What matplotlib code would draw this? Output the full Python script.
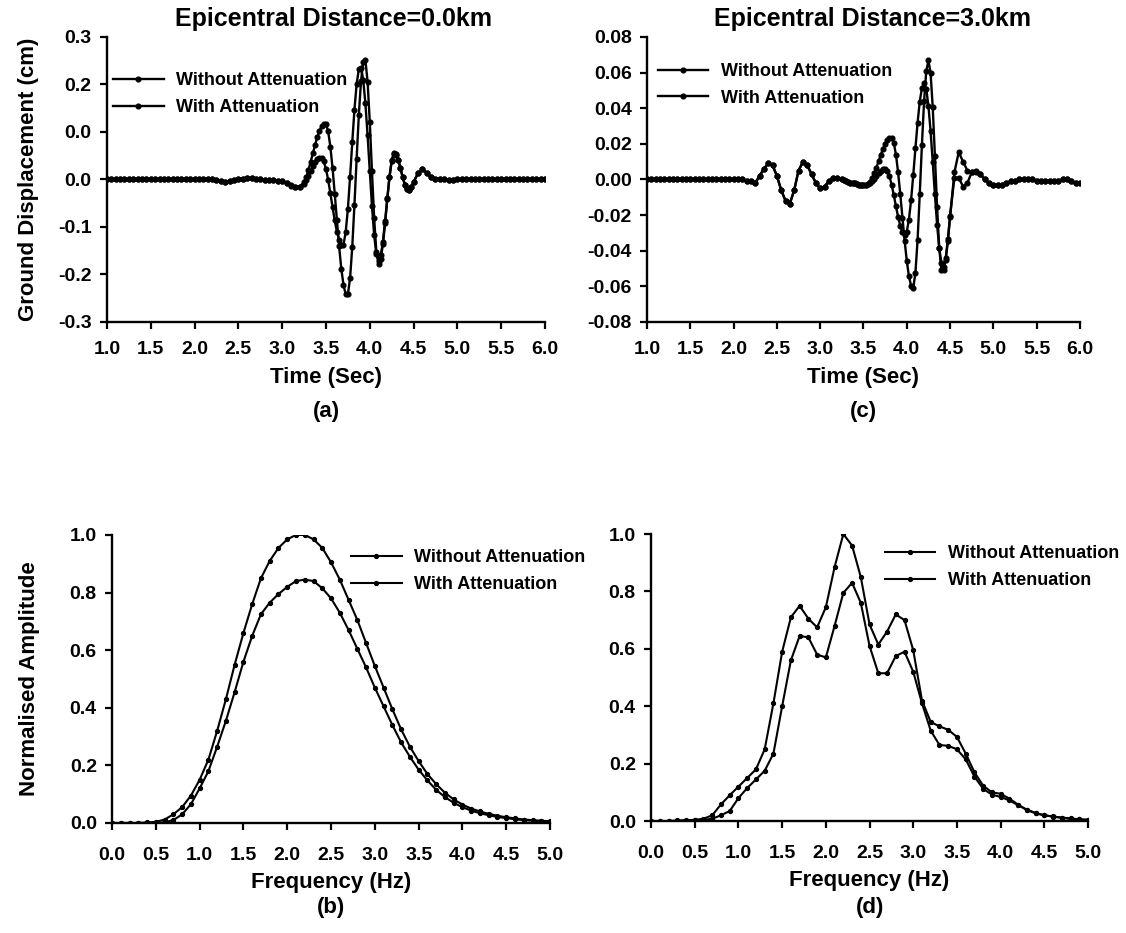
import numpy as np
import matplotlib
matplotlib.use('Agg')
import matplotlib.pyplot as plt

plt.rcParams['font.family'] = ['Liberation Sans', 'DejaVu Sans']
plt.rcParams['font.weight'] = 'bold'
plt.rcParams['axes.labelweight'] = 'bold'

# time axis of the displacement records (s): coarse, fine around the main pulse, coarse
time = np.round(np.concatenate([np.arange(1.0, 3.2501, 0.05),
                                np.arange(3.275, 4.5001, 0.025),
                                np.arange(4.55, 6.0001, 0.05)]), 3)
# frequency axis of the spectra (Hz)
freq = np.round(np.arange(0.0, 5.0001, 0.1), 1)

# (a) epicentral distance 0.0 km, ground displacement (cm)
disp0_without = [
    # 1.00 - 3.25 s
    0.000, 0.000, 0.000, 0.000, 0.000, 0.000, 0.000, 0.000, 0.000, 0.000,
    0.000, 0.000, 0.000, 0.000, 0.000, 0.000, 0.000, 0.000, 0.000, 0.000,
    0.000, 0.001, 0.002, 0.001, 0.000, -0.002, -0.004, -0.005, -0.004, -0.002,
    0.000, 0.002, 0.003, 0.003, 0.002, 0.000, -0.001, -0.002, -0.002, -0.003,
    -0.004, -0.008, -0.013, -0.016, -0.015, -0.006,
    # 3.275 - 4.500 s
    0.005, 0.020, 0.037, 0.055, 0.072, 0.089, 0.102, 0.112, 0.117, 0.117,
    0.101, 0.069, 0.024, -0.030, -0.086, -0.141, -0.188, -0.222, -0.242, -0.242,
    -0.208, -0.142, -0.053, 0.044, 0.136, 0.207, 0.248, 0.251, 0.206, 0.121,
    0.017, -0.082, -0.152, -0.178, -0.167, -0.136, -0.091, -0.041, 0.006, 0.040,
    0.056, 0.053, 0.042, 0.024, 0.005, -0.011, -0.021, -0.022, -0.016, -0.0055,
    # 4.55 - 6.00 s
    0.013, 0.021, 0.014, 0.005, 0.001, 0.000, 0.000, -0.001, -0.001,
    0.000, 0.000, 0.000, 0.000, 0.000, 0.000, 0.001, 0.001, 0.000, 0.000,
    0.000, 0.000, 0.000, 0.000, 0.000, 0.000, 0.000, 0.001, 0.001, 0.000,
    0.000]
disp0_with = [
    0.000, 0.000, 0.000, 0.000, 0.000, 0.000, 0.000, 0.000, 0.000, 0.000,
    0.000, 0.000, 0.000, 0.000, 0.000, 0.000, 0.000, 0.000, 0.000, 0.000,
    0.000, 0.001, 0.002, 0.001, 0.000, -0.002, -0.004, -0.005, -0.004, -0.002,
    0.000, 0.002, 0.003, 0.003, 0.002, 0.000, -0.001, -0.002, -0.002, -0.003,
    -0.004, -0.008, -0.012, -0.016, -0.016, -0.010,
    -0.002, 0.007, 0.018, 0.028, 0.036, 0.043, 0.046, 0.046, 0.038, 0.022,
    -0.001, -0.029, -0.058, -0.086, -0.110, -0.127, -0.137, -0.137, -0.111, -0.062,
    0.005, 0.078, 0.147, 0.201, 0.232, 0.235, 0.210, 0.160, 0.093, 0.018,
    -0.056, -0.117, -0.157, -0.171, -0.160, -0.131, -0.088, -0.040, 0.005, 0.038,
    0.053, 0.051, 0.041, 0.024, 0.005, -0.011, -0.021, -0.022, -0.016, -0.0055,
    0.013, 0.021, 0.014, 0.005, 0.001, 0.000, 0.000, -0.001, -0.001,
    0.000, 0.000, 0.000, 0.000, 0.000, 0.000, 0.001, 0.001, 0.000, 0.000,
    0.000, 0.000, 0.000, 0.000, 0.000, 0.000, 0.000, 0.001, 0.001, 0.000,
    0.000]

# (c) epicentral distance 3.0 km
disp3_without = [
    0.000, 0.000, 0.000, 0.000, 0.000, 0.000, 0.000, 0.000, 0.000, 0.000,
    0.000, 0.000, 0.000, 0.000, 0.000, 0.000, 0.000, 0.000, 0.000, 0.000,
    0.000, 0.000, 0.000, -0.001, -0.001, -0.002, 0.002, 0.006, 0.009, 0.008,
    0.002, -0.006, -0.012, -0.0135, -0.006, 0.005, 0.0097, 0.008, 0.003, -0.002,
    -0.005, -0.004, -0.001, 0.001, 0.001, 0.000,
    -0.0005, -0.001, -0.0015, -0.002, -0.002, -0.002, -0.0025, -0.003, -0.003, -0.003,
    -0.003, -0.0027, -0.0015, 0.0006, 0.0034, 0.0067, 0.0103, 0.0139, 0.0172, 0.0200,
    0.0221, 0.0233, 0.0235, 0.0206, 0.0139, 0.0040, -0.0082, -0.0214, -0.0343, -0.0456,
    -0.0544, -0.0597, -0.0608, -0.0524, -0.0338, -0.0082, 0.0195, 0.0440, 0.0608, 0.0668,
    0.0598, 0.0404, 0.0132, -0.0153, -0.0385, -0.0509, -0.0511, -0.0450, -0.0344, -0.0212,
    0.004, 0.0153, 0.010, 0.005, 0.004, 0.004, 0.003, 0.000, -0.002,
    -0.003, -0.003, -0.003, -0.002, -0.001, -0.001, 0.000, 0.000, 0.000, 0.000,
    -0.001, -0.001, -0.001, -0.001, -0.001, -0.001, 0.000, 0.000, -0.001, -0.002,
    -0.002]
disp3_with = [
    0.000, 0.000, 0.000, 0.000, 0.000, 0.000, 0.000, 0.000, 0.000, 0.000,
    0.000, 0.000, 0.000, 0.000, 0.000, 0.000, 0.000, 0.000, 0.000, 0.000,
    0.000, 0.000, 0.000, -0.001, -0.001, -0.002, 0.002, 0.006, 0.009, 0.008,
    0.002, -0.006, -0.012, -0.0135, -0.006, 0.005, 0.0097, 0.008, 0.003, -0.002,
    -0.005, -0.004, -0.001, 0.001, 0.001, 0.000,
    -0.0005, -0.001, -0.0015, -0.002, -0.002, -0.002, -0.0025, -0.003, -0.003, -0.003,
    -0.003, -0.0028, -0.0021, -0.0009, 0.0005, 0.0021, 0.0037, 0.0049, 0.0057, 0.0060,
    0.0049, 0.0019, -0.0029, -0.0087, -0.0150, -0.0210, -0.0260, -0.0295, -0.0310, -0.0293,
    -0.0225, -0.0115, 0.0025, 0.0175, 0.0319, 0.0437, 0.0513, 0.0540, 0.0508, 0.0414,
    0.0272, 0.0098, -0.0084, -0.0253, -0.0387, -0.0469, -0.0489, -0.0440, -0.0336, -0.0203,
    0.001, 0.001, -0.004, -0.002, 0.004, 0.005, 0.003, 0.000, -0.002,
    -0.003, -0.003, -0.003, -0.002, -0.001, -0.001, 0.000, 0.000, 0.000, 0.000,
    -0.001, -0.001, -0.001, -0.001, -0.001, -0.001, 0.000, 0.000, -0.001, -0.002,
    -0.002]

# (b) normalised amplitude spectra, 0.0 km
amp0_without = [
    0.000, 0.000, 0.000, 0.000, 0.002, 0.004, 0.012, 0.030, 0.055, 0.095,
    0.150, 0.220, 0.320, 0.430, 0.550, 0.660, 0.760, 0.850, 0.910, 0.955,
    0.985, 1.000, 1.000, 0.985, 0.955, 0.905, 0.845, 0.775, 0.705, 0.625,
    0.545, 0.470, 0.395, 0.325, 0.265, 0.215, 0.170, 0.135, 0.105, 0.082,
    0.064, 0.050, 0.040, 0.032, 0.025, 0.020, 0.016, 0.012, 0.010, 0.008,
    0.006]
amp0_with = [
    0.000, 0.000, 0.000, 0.000, 0.000, 0.000, 0.003, 0.010, 0.030, 0.065,
    0.120, 0.180, 0.265, 0.355, 0.455, 0.560, 0.650, 0.725, 0.765, 0.795,
    0.820, 0.840, 0.845, 0.840, 0.815, 0.780, 0.730, 0.670, 0.605, 0.540,
    0.470, 0.405, 0.340, 0.280, 0.230, 0.185, 0.148, 0.115, 0.090, 0.070,
    0.055, 0.043, 0.034, 0.027, 0.021, 0.017, 0.013, 0.010, 0.008, 0.006,
    0.005]

# (d) normalised amplitude spectra, 3.0 km
amp3_without = [
    0.000, 0.000, 0.000, 0.002, 0.003, 0.004, 0.008, 0.020, 0.058, 0.090,
    0.120, 0.150, 0.180, 0.250, 0.410, 0.590, 0.710, 0.750, 0.705, 0.675,
    0.745, 0.885, 1.000, 0.960, 0.850, 0.685, 0.615, 0.660, 0.720, 0.700,
    0.595, 0.420, 0.345, 0.330, 0.318, 0.293, 0.235, 0.170, 0.123, 0.100,
    0.095, 0.078, 0.057, 0.038, 0.027, 0.020, 0.016, 0.012, 0.009, 0.006,
    0.004]
amp3_with = [
    0.000, 0.000, 0.000, 0.000, 0.001, 0.002, 0.004, 0.008, 0.020, 0.035,
    0.080, 0.115, 0.145, 0.175, 0.235, 0.400, 0.560, 0.645, 0.640, 0.580,
    0.570, 0.680, 0.795, 0.830, 0.760, 0.610, 0.515, 0.515, 0.575, 0.590,
    0.520, 0.410, 0.315, 0.265, 0.262, 0.250, 0.215, 0.155, 0.112, 0.092,
    0.084, 0.072, 0.055, 0.040, 0.028, 0.020, 0.015, 0.011, 0.008, 0.006,
    0.004]

labels = ['Without Attenuation', 'With Attenuation']
time_ticks = [1.0, 1.5, 2.0, 2.5, 3.0, 3.5, 4.0, 4.5, 5.0, 5.5, 6.0]
freq_ticks = [0.0, 0.5, 1.0, 1.5, 2.0, 2.5, 3.0, 3.5, 4.0, 4.5, 5.0]
ticks_a = [-0.3, -0.2, -0.1, 0.0, 0.1, 0.2, 0.3]
ticklabels_a = ['-0.3', '-0.2', '-0.1', '0.0', '0.0', '0.2', '0.3']
ticks_c = [-0.08, -0.06, -0.04, -0.02, 0.0, 0.02, 0.04, 0.06, 0.08]
ticks_amp = [0.0, 0.2, 0.4, 0.6, 0.8, 1.0]


def style(ax, xpad):
    for s in ['top', 'right']:
        ax.spines[s].set_visible(False)
    for s in ['left', 'bottom']:
        ax.spines[s].set_linewidth(1.7)
    ax.tick_params(axis='both', direction='out', length=5, width=1.6, labelsize=14)
    ax.tick_params(axis='x', pad=xpad)
    ax.tick_params(axis='y', pad=6)


def draw(ax, x, y1, y2, lw, ms):
    ax.plot(x, y1, color='black', lw=lw, marker='o', ms=ms, label=labels[0])
    ax.plot(x, y2, color='black', lw=lw, marker='o', ms=ms, label=labels[1])


fig = plt.figure(figsize=(11.26, 9.33), dpi=100)

ax_a = fig.add_axes([0.0950, 0.6549, 0.3890, 0.3055])
ax_c = fig.add_axes([0.5746, 0.6549, 0.3845, 0.3055])
ax_b = fig.add_axes([0.0995, 0.1179, 0.3890, 0.3087])
ax_d = fig.add_axes([0.5782, 0.1200, 0.3881, 0.3076])

draw(ax_a, time, disp0_without, disp0_with, 1.7, 3.4)
draw(ax_c, time, disp3_without, disp3_with, 1.7, 3.4)
draw(ax_b, freq, amp0_without, amp0_with, 1.5, 2.8)
draw(ax_d, freq, amp3_without, amp3_with, 1.5, 2.8)

for ax in [ax_a, ax_c]:
    style(ax, 9)
    ax.set_xlim(1.0, 6.0)
    ax.set_xticks(time_ticks)
    ax.set_xticklabels(['%.1f' % v for v in time_ticks])
    ax.set_xlabel('Time (Sec)', fontsize=16, labelpad=6)

ax_a.set_ylim(-0.3, 0.3)
ax_a.set_yticks(ticks_a)
ax_a.set_yticklabels(ticklabels_a)
ax_a.set_ylabel('Ground Displacement (cm)', fontsize=16, labelpad=14)
ax_a.set_title('Epicentral Distance=0.0km', fontsize=18, fontweight='bold', pad=8, x=0.518)

ax_c.set_ylim(-0.08, 0.08)
ax_c.set_yticks(ticks_c)
ax_c.set_yticklabels(['%.2f' % v for v in ticks_c])
ax_c.set_title('Epicentral Distance=3.0km', fontsize=18, fontweight='bold', pad=8, x=0.52)

for ax in [ax_b, ax_d]:
    style(ax, 12)
    ax.set_xlim(0.0, 5.0)
    ax.set_ylim(0.0, 1.0)
    ax.set_xticks(freq_ticks)
    ax.set_xticklabels(['%.1f' % v for v in freq_ticks])
    ax.set_yticks(ticks_amp)
    ax.set_yticklabels(['%.1f' % v for v in ticks_amp])
    ax.set_xlabel('Frequency (Hz)', fontsize=16, labelpad=6)

ax_b.set_ylabel('Normalised Amplitude', fontsize=16, labelpad=21)

leg_kw = dict(frameon=False, loc='upper left', fontsize=13, handlelength=2.8,
              handletextpad=0.7, labelspacing=0.55, borderaxespad=0, borderpad=0)
ax_a.legend(bbox_to_anchor=(0.014, 0.877), **leg_kw)
ax_c.legend(bbox_to_anchor=(0.025, 0.909), **leg_kw)
ax_b.legend(bbox_to_anchor=(0.546, 0.951), **leg_kw)
ax_d.legend(bbox_to_anchor=(0.535, 0.962), **leg_kw)

fig.text(326 / 1126, 1 - 411 / 933, '(a)', ha='center', va='center', fontsize=16)
fig.text(863 / 1126, 1 - 411 / 933, '(c)', ha='center', va='center', fontsize=16)
fig.text(331 / 1126, 1 - 907 / 933, '(b)', ha='center', va='center', fontsize=16)
fig.text(870 / 1126, 1 - 907 / 933, '(d)', ha='center', va='center', fontsize=16)

fig.savefig('out.png', dpi=100)
